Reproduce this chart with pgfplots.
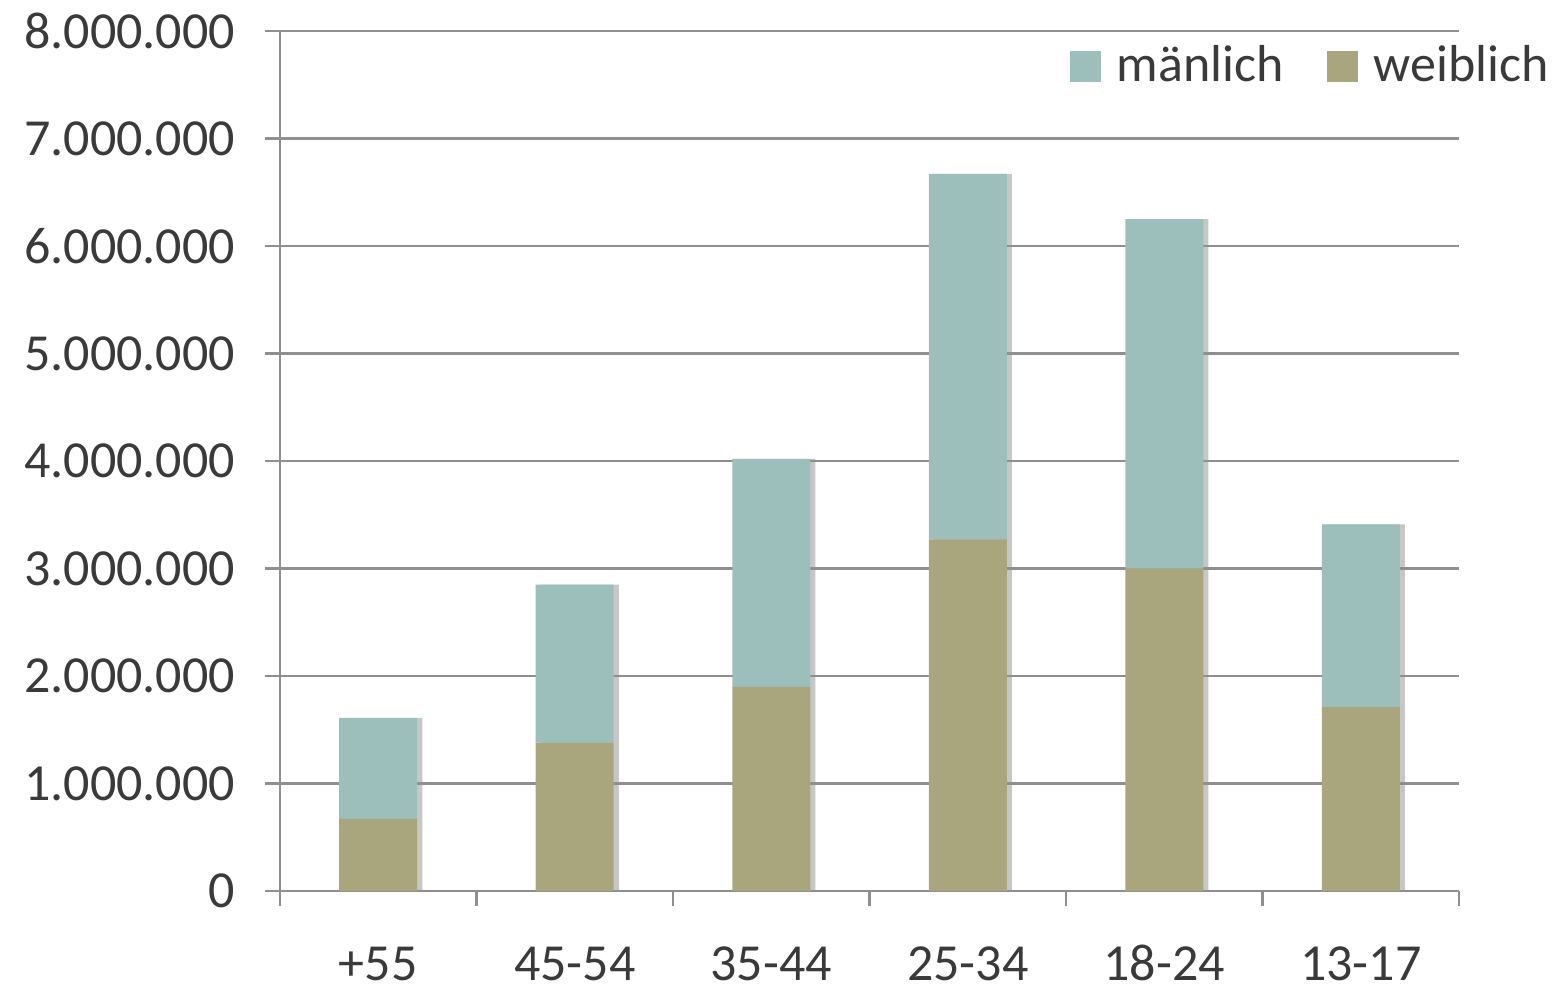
\documentclass[border=0pt]{standalone}
\usepackage{pgfplots}
\usepackage{pgfplotstable}
\pgfplotsset{compat=1.18}
\usepackage{fontspec}
\setmainfont{Carlito}
\definecolor{maen}{HTML}{9CBFBC}
\definecolor{weib}{HTML}{A9A67D}
\definecolor{txt}{HTML}{3A3A3A}
\definecolor{gridc}{HTML}{8F8F8F}

\pgfplotstableread{
x weiblich maenlich
0 670000  940000
1 1380000 1470000
2 1900000 2120000
3 3270000 3400000
4 3000000 3250000
5 1710000 1700000
}\agedata

\begin{document}
\begin{tikzpicture}
% bar shadows
\begin{axis}[
  scale only axis, width=589.5pt, height=430pt, hide axis,
  xmin=-0.5, xmax=5.5, ymin=0, ymax=8000000,
  ybar, bar width=39pt, bar shift=2.5pt,
]
\addplot[fill=black!22, draw=none]
  table[x=x, y expr=\thisrow{weiblich}+\thisrow{maenlich}] {\agedata};
\end{axis}
\begin{axis}[
  scale only axis, width=589.5pt, height=430pt,
  ybar stacked, bar width=39pt,
  xmin=-0.5, xmax=5.5, ymin=0, ymax=8000000,
  axis lines=left,
  axis line style={-, gridc, line width=1.2pt},
  xtick={0,...,5},
  xticklabels={+55,45-54,35-44,25-34,18-24,13-17},
  minor xtick={-0.5,0.5,...,5.5},
  ytick={0,1000000,...,8000000},
  scaled y ticks=false,
  /pgf/number format/assume math mode=true,
  y tick label style={/tikz/xshift=-11.5pt,
    /pgf/number format/.cd, fixed, precision=0, 1000 sep={.}},
  xticklabel style={text height=17pt, text depth=0pt, yshift=-16.5pt},
  tick align=outside,
  major tick length=7.5pt, minor tick length=7.5pt,
  major x tick style={draw=none},
  tick style={gridc, line width=1.2pt},
  ymajorgrids, grid style={gridc, line width=1.2pt},
  tick label style={font=\fontsize{26}{30}\selectfont, text=txt},
  legend style={at={(rel axis cs:1.085,0.993)}, anchor=north east,
    draw=none, fill=none, font=\fontsize{26}{30}\selectfont, text=txt,
    legend columns=2,
    /tikz/every odd column/.append style={column sep=6pt},
    /tikz/every even column/.append style={column sep=19.5pt}},
  legend image code/.code={\fill[#1] (0pt,-8.5pt) rectangle (15.5pt,7pt);},
  reverse legend,
]
\addplot[fill=weib, draw=none] table[x=x, y=weiblich] {\agedata};
\addlegendentry{weiblich}
\addplot[fill=maen, draw=none] table[x=x, y=maenlich] {\agedata};
\addlegendentry{mänlich}
\coordinate (O) at (rel axis cs:0,0);
\end{axis}
\pgfresetboundingbox
\path ([shift={(-140pt,-50pt)}]O) rectangle ([shift={(637pt,445.5pt)}]O);
\end{tikzpicture}
\end{document}
